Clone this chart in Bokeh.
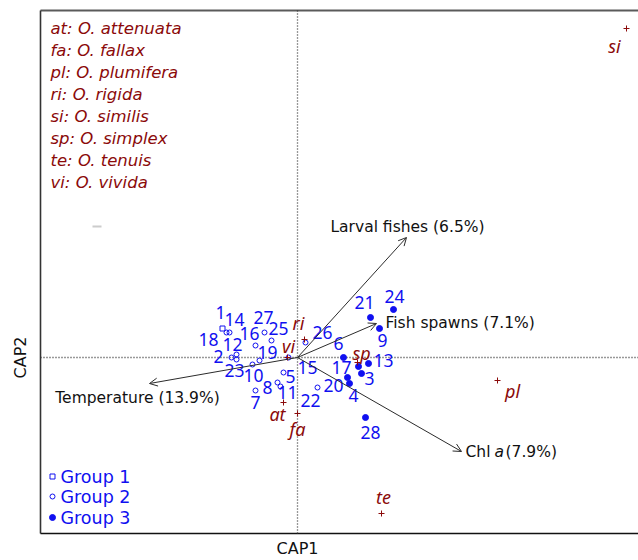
import math
from bokeh.plotting import figure
from bokeh.models import ColumnDataSource, Arrow, OpenHead, Label, Range1d
from bokeh.core.properties import value
from bokeh.embed import file_html
from bokeh.resources import INLINE

# ---- site scores on the first two CAP axes ----
site_ids = [str(i) for i in range(1, 29)]
cap1 = [-0.75, -0.66, 0.64, 0.52, -0.14, 0.46, -0.42, -0.20, 0.82, -0.45,
        -0.17, -0.61, 0.71, -0.68, -0.09, -0.42, 0.61, -0.71, -0.38, 0.50,
        0.73, 0.20, -0.61, 0.96, -0.26, 0.08, -0.33, 0.68]
cap2 = [0.29, 0.00, -0.16, -0.26, -0.15, 0.00, -0.33, -0.25, 0.29, -0.07,
        -0.29, 0.03, -0.06, 0.25, 0.00, 0.12, -0.09, 0.25, -0.03, -0.20,
        0.40, -0.30, -0.02, 0.48, 0.17, 0.15, 0.25, -0.60]
group = [1, 2, 3, 3, 2, 3, 2, 2, 3, 2,
         2, 2, 3, 2, 2, 2, 3, 2, 2, 3,
         3, 2, 2, 3, 2, 2, 2, 3]
# label placement around each site marker (screen pixels, y down)
lab_dx = [-2, -13, 8, 4, 7, -5, 0, -10, 3, 1,
          7, -4, 15, 5, 19, -6, -17, -18, 8, -14,
          -6, -7, -2, 1, 7, 17, -1, 5]
lab_dy = [-16, -1, 5, 12, 4, -14, 12, 5, 12, 11,
          6, -10, -3, -13, 10, -12, 1, 7, -8, 8,
          -15, 13, 11, -13, -12, -10, -15, 15]

# ---- species scores ----
species = ["at", "fa", "pl", "ri", "si", "sp", "te", "vi"]
species_names = ["O. attenuata", "O. fallax", "O. plumifera", "O. rigida",
                 "O. similis", "O. simplex", "O. tenuis", "O. vivida"]
sp_cap1 = [-0.14, 0.00, 2.00, 0.07, 3.29, 0.60, 0.84, -0.10]
sp_cap2 = [-0.45, -0.56, -0.23, 0.18, 3.29, -0.05, -1.56, 0.00]
sp_dx = [-6, 0, 15, -6, -12, 4, 2, 1]
sp_dy = [11, 15, 10, -17, 17, -10, -17, -12]

# ---- environmental vectors ----
env_names = ["Larval fishes (6.5%)", "Fish spawns (7.1%)", "Chl a (7.9%)",
             "Temperature (13.9%)"]
env_cap1 = [1.09, 0.79, 1.64, -1.48]
env_cap2 = [1.20, 0.34, -0.94, -0.26]

group_labels = ["Group 1", "Group 2", "Group 3"]

BLUE = "#1010F0"
DARK_RED = "#8B0A0A"
INK = "#2b2b2b"
NUM_FONT = "Noto Sans"
TXT_FONT = "DejaVu Sans"

# the canvas spans the whole page; 100 px per CAP unit, origin at (297, 357)
W, H = 638, 560
PX = 100.0
X0, X1 = -297 / PX, (W - 297) / PX
Y0, Y1 = (357 - H) / PX, 357 / PX

def sx(px):
    return X0 + px / PX

def sy(py):
    return Y1 - py / PX

# plotting box edges
FX0, FX1 = sx(40), sx(W)
FY0, FY1 = sy(533), sy(10)

p = figure(width=W, height=H, output_backend="svg", toolbar_location=None,
           x_range=Range1d(X0, X1), y_range=Range1d(Y0, Y1),
           x_axis_type=None, y_axis_type=None,
           min_border=0, min_border_left=0, min_border_right=0,
           min_border_top=0, min_border_bottom=0)
p.outline_line_color = None
p.background_fill_color = "white"
p.border_fill_color = "white"

# box lines on left, top and bottom
p.segment(x0=[FX0], y0=[FY1], x1=[FX1], y1=[FY1], line_color="#5a5a5a", line_width=2)
p.segment(x0=[FX0], y0=[FY0], x1=[FX0], y1=[FY1], line_color="#333333", line_width=1.6)
p.segment(x0=[FX0], y0=[FY0], x1=[FX1], y1=[FY0], line_color="#111111", line_width=1.6)

# dotted origin lines
p.segment(x0=[FX0, 0], y0=[0, FY0], x1=[FX1, 0], y1=[0, FY1],
          line_color="#333333", line_dash="1 2", line_width=1.3)

# environmental arrows
for ex, ey in zip(env_cap1, env_cap2):
    p.add_layout(Arrow(end=OpenHead(size=8, line_color=INK, line_width=1),
                       x_start=0, y_start=0, x_end=ex, y_end=ey,
                       line_color=INK, line_width=1))

def env_label(i, text, dx, dy, align, style="normal"):
    p.add_layout(Label(x=env_cap1[i], y=env_cap2[i], text=text,
                       x_offset=dx, y_offset=-dy, text_align=align,
                       text_baseline="middle", text_font=TXT_FONT,
                       text_font_size="15.5px", text_color="#111111",
                       text_font_style=style))

env_label(0, env_names[0], 1, -11, "center")
env_label(1, env_names[1], 9, -1, "left")
env_label(2, "Chl", 4, 0, "left")
env_label(2, "a", 33, 0, "left", "italic")
env_label(2, "(7.9%)", 44, 0, "left")
env_label(3, env_names[3], -12, 14, "center")

# site markers by group
src = ColumnDataSource(dict(x=cap1, y=cap2, t=site_ids, dx=lab_dx, dy=lab_dy))
g1 = [i for i, g in enumerate(group) if g == 1]
g2 = [i for i, g in enumerate(group) if g == 2]
g3 = [i for i, g in enumerate(group) if g == 3]
p.scatter([cap1[i] for i in g1], [cap2[i] for i in g1], marker="square",
          size=5, fill_color=None, line_color=BLUE, line_width=1)
p.scatter([cap1[i] for i in g2], [cap2[i] for i in g2], marker="circle",
          size=5, fill_color=None, line_color=BLUE, line_width=1)
p.scatter([cap1[i] for i in g3], [cap2[i] for i in g3], marker="circle",
          size=6, fill_color=BLUE, line_color=BLUE, line_width=1)
p.text(x="x", y="y", text="t", x_offset="dx", y_offset="dy", source=src,
       text_align="center", text_baseline="middle", text_color=BLUE,
       text_font=value(NUM_FONT), text_font_size="17.5px")

# species positions
ssrc = ColumnDataSource(dict(x=sp_cap1, y=sp_cap2, t=species, dx=sp_dx, dy=sp_dy))
p.scatter("x", "y", source=ssrc, marker="cross", size=6, line_color=DARK_RED,
          line_width=1)
p.text(x="x", y="y", text="t", x_offset="dx", y_offset="dy", source=ssrc,
       text_align="center", text_baseline="middle", text_color=DARK_RED,
       text_font=value(NUM_FONT), text_font_size="18px", text_font_style="italic")

# species key, top-left
for k, (ab, nm) in enumerate(zip(species, species_names)):
    p.add_layout(Label(x=sx(50), y=sy(28 + 22 * k), text=f"{ab}: {nm}",
                       text_baseline="middle", text_align="left",
                       text_font=TXT_FONT, text_font_size="16.5px",
                       text_font_style="italic", text_color=DARK_RED))
p.segment(x0=[sx(92)], y0=[sy(226)], x1=[sx(101)], y1=[sy(226)],
          line_color="#cccccc", line_width=2)

# group key, bottom-left
key_y = [sy(476), sy(496), sy(517)]
p.scatter([sx(52)], [key_y[0]], marker="square", size=5, fill_color=None,
          line_color=BLUE)
p.scatter([sx(52)], [key_y[1]], marker="circle", size=5, fill_color=None,
          line_color=BLUE)
p.scatter([sx(52)], [key_y[2]], marker="circle", size=6, fill_color=BLUE,
          line_color=BLUE)
for lab, yy in zip(group_labels, key_y):
    p.add_layout(Label(x=sx(60), y=yy, text=lab, text_baseline="middle",
                       text_align="left", text_font=TXT_FONT,
                       text_font_size="17.5px", text_color=BLUE))

# axis titles placed at the origin lines
p.add_layout(Label(x=0, y=sy(548), text="CAP1", text_align="center",
                   text_baseline="middle", text_font=TXT_FONT,
                   text_font_size="16px", text_color="#111111"))
p.add_layout(Label(x=sx(20), y=0, text="CAP2", text_align="center",
                   text_baseline="middle", text_font=TXT_FONT, angle=math.pi / 2,
                   text_font_size="16px", text_color="#111111"))

open("out.html", "w").write(file_html(p, INLINE))
